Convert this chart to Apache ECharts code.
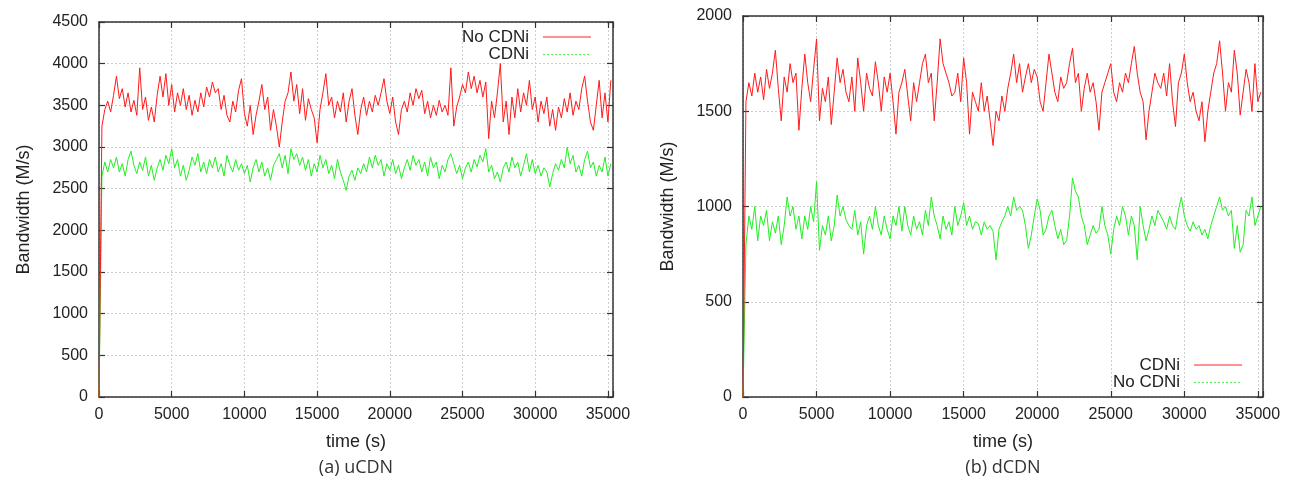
<!DOCTYPE html>
<html><head><meta charset="utf-8">
<script src="https://cdn.jsdelivr.net/npm/echarts@6/dist/echarts.min.js"></script>
<style>html,body{margin:0;padding:0;background:#fff}#c{width:1296px;height:484px}</style>
</head><body><div id="c"></div>
<script>
// ---- data (one sample every 200 s) ----
const sampleStep = 200;
const xMax = 35350;
const xInterval = 5000;
const uYMax = 4500, dYMax = 2000, yInterval = 500;
const panelCaptions = ['(a) uCDN', '(b) dCDN'];
const axisNameX = 'time (s)';
const axisNameY = 'Bandwidth (M/s)';
const uNames = ['No CDNi', 'CDNi'];
const dNames = ['CDNi', 'No CDNi'];

// (a) uCDN, "No CDNi" (red)
const uNoCdni = [0,3250,3450,3550,3420,3620,3850,3580,3700,3480,3650,3420,3560,3380,3950,3450,3600,3320,3480,3300,
3620,3850,3600,3880,3500,3750,3420,3650,3500,3700,3450,3620,3380,3560,3420,3650,3480,3720,3600,3780,
3650,3700,3450,3620,3380,3300,3550,3420,3680,3820,3400,3250,3500,3150,3380,3550,3750,3450,3600,3200,
3450,3250,3000,3300,3550,3650,3900,3550,3750,3400,3700,3320,3580,3450,3350,3050,3450,3650,3880,3500,
3600,3350,3550,3420,3650,3300,3550,3700,3380,3150,3450,3600,3380,3550,3420,3620,3500,3650,3820,3550,
3400,3600,3300,3150,3450,3550,3420,3650,3500,3700,3580,3680,3400,3550,3350,3500,3380,3560,3420,3500,
3380,3950,3250,3480,3600,3750,3650,3900,3700,3850,3650,3800,3600,3780,3100,3550,3350,3650,4000,3300,
3550,3150,3600,3350,3700,3420,3650,3500,3800,3450,3600,3300,3550,3400,3600,3250,3450,3200,3480,3350,
3580,3420,3650,3380,3550,3450,3700,3850,3550,3300,3200,3500,3800,3350,3650,3300,3800];
// (a) uCDN, "CDNi" (green)
const uCdni = [0,2650,2820,2700,2850,2750,2880,2700,2800,2650,2850,2950,2780,2680,2820,2720,2880,2650,2780,2600,
2750,2850,2720,2900,2800,2980,2750,2850,2650,2780,2600,2720,2880,2780,2920,2700,2820,2680,2850,2750,
2880,2700,2800,2650,2900,2780,2700,2850,2720,2800,2680,2780,2580,2750,2850,2700,2820,2650,2750,2600,
2780,2850,2920,2750,2900,2680,2980,2850,2920,2780,2880,2720,2850,2650,2800,2700,2900,2750,2850,2680,
2780,2620,2850,2700,2600,2480,2650,2720,2600,2750,2680,2800,2700,2880,2750,2900,2780,2850,2650,2800,
2720,2850,2680,2780,2620,2750,2850,2720,2900,2780,2850,2700,2820,2650,2880,2750,2820,2620,2780,2700,
2850,2920,2800,2680,2780,2620,2750,2820,2700,2850,2760,2900,2820,2980,2700,2780,2620,2700,2580,2750,
2820,2700,2880,2750,2820,2650,2780,2920,2700,2850,2680,2780,2650,2750,2700,2520,2680,2800,2720,2850,
2750,3000,2800,2900,2700,2780,2650,2850,2950,2750,2820,2650,2780,2700,2880,2650,2800];
// (b) dCDN, "CDNi" (red)
const dCdni = [0,1550,1650,1580,1700,1600,1680,1560,1720,1620,1700,1820,1620,1450,1680,1600,1750,1650,1700,1400,
1620,1800,1650,1550,1720,1880,1450,1620,1550,1680,1430,1600,1780,1650,1720,1600,1550,1680,1500,1780,
1650,1500,1700,1620,1580,1760,1650,1500,1680,1600,1700,1550,1380,1600,1650,1720,1580,1450,1650,1550,
1650,1750,1800,1650,1700,1450,1650,1880,1750,1700,1650,1580,1600,1700,1550,1780,1650,1380,1600,1550,
1500,1650,1500,1580,1450,1320,1500,1450,1580,1500,1620,1700,1800,1650,1750,1600,1680,1750,1650,1720,
1680,1550,1500,1650,1800,1700,1600,1550,1680,1620,1650,1750,1830,1650,1700,1500,1620,1700,1600,1650,
1550,1400,1600,1650,1700,1750,1600,1550,1650,1600,1700,1650,1750,1840,1700,1600,1550,1350,1500,1600,
1700,1650,1620,1700,1580,1750,1550,1420,1650,1700,1800,1650,1550,1600,1500,1450,1550,1340,1500,1600,
1700,1750,1870,1700,1500,1650,1600,1820,1700,1480,1600,1720,1650,1500,1750,1550,1600];
// (b) dCDN, "No CDNi" (green)
const dNoCdni = [0,800,950,880,1000,820,950,900,980,820,920,860,950,800,900,1050,950,1000,880,950,
830,950,880,1000,920,1130,770,900,850,950,820,900,1060,950,1000,930,900,880,980,850,
920,750,900,950,880,1000,900,850,950,880,830,950,900,1000,870,1000,900,850,950,880,
920,850,980,900,1050,950,900,830,950,880,920,850,1000,900,950,1020,900,950,880,920,
910,850,920,880,900,870,720,880,920,950,1000,950,1050,980,1000,980,900,780,850,950,
1040,980,850,880,950,980,900,830,880,800,820,950,1150,1080,1050,950,900,800,850,900,
860,880,1000,900,850,750,880,950,900,1000,950,850,950,900,720,1000,900,820,880,950,
900,980,950,920,880,950,900,880,980,1050,950,900,870,920,880,900,850,880,830,900,
950,1000,1050,980,1000,950,980,780,900,760,800,980,950,1050,900,950,1000];

// ---- chart ----
const FONT = '"Liberation Sans", Arial, sans-serif';
const RED = '#ff1a1a', GREEN = '#22ee22';
const pairs = arr => arr.map((v, i) => [i * sampleStep, v]);

const grids = [
  {left: 99, top: 22, width: 514, height: 375},
  {left: 743, top: 16, width: 520, height: 381}
];
const boxLine = {show: true, onZero: false, lineStyle: {color: '#333', width: 1.5}};
const tickIn = {show: true, inside: true, length: 6, lineStyle: {color: '#333', width: 1.2}};
const gridLine = {show: true, lineStyle: {color: '#cfcfcf', type: [2, 2], width: 1}};

function xAxes(g) {
  return [
    {gridIndex: g, type: 'value', position: 'bottom', min: 0, max: xMax, interval: xInterval,
     axisLine: boxLine, axisTick: tickIn, splitLine: gridLine,
     axisLabel: {fontSize: 16, color: '#222', fontFamily: FONT, margin: 10,
       formatter: v => (v % xInterval === 0 ? String(v) : '')},
     name: axisNameX, nameLocation: 'middle', nameGap: 36,
     nameTextStyle: {fontSize: 18, color: '#222', fontFamily: FONT}},
    {gridIndex: g, type: 'value', position: 'top', min: 0, max: xMax, interval: xInterval,
     axisLine: boxLine, axisTick: tickIn, splitLine: {show: false}, axisLabel: {show: false}}
  ];
}
function yAxes(g, ymax) {
  return [
    {gridIndex: g, type: 'value', position: 'left', min: 0, max: ymax, interval: yInterval,
     axisLine: boxLine, axisTick: tickIn, splitLine: gridLine,
     axisLabel: {fontSize: 16, color: '#222', fontFamily: FONT, margin: 11, formatter: v => String(v)},
     name: axisNameY, nameLocation: 'middle', nameGap: 66, nameRotate: 90,
     nameTextStyle: {fontSize: 18, color: '#222', fontFamily: FONT}},
    {gridIndex: g, type: 'value', position: 'right', min: 0, max: ymax, interval: yInterval,
     axisLine: boxLine, axisTick: tickIn, splitLine: {show: false}, axisLabel: {show: false}}
  ];
}
function line(name, data, color, xi, yi, z) {
  return {type: 'line', name, data: pairs(data), xAxisIndex: xi, yAxisIndex: yi,
    showSymbol: false, symbol: 'none', z: z, animation: false,
    lineStyle: {color, width: 1}, itemStyle: {color}};
}

function legendItems(x, yTop, names, colors, dashes) {
  const out = [];
  names.forEach((n, k) => {
    const y = yTop + k * 17.5;
    out.push({type: 'text', x: x, y: y, style: {text: n, fill: '#222', font: '17px ' + FONT,
      textAlign: 'right', textVerticalAlign: 'middle'}});
    out.push({type: 'line', shape: {x1: x + 14, y1: y, x2: x + 62, y2: y},
      style: {stroke: colors[k], lineWidth: 1.3, lineDash: dashes[k]}});
  });
  return out;
}

const option = {
  backgroundColor: '#fff',
  animation: false,
  grid: grids,
  xAxis: [...xAxes(0), ...xAxes(1)],
  yAxis: [...yAxes(0, uYMax), ...yAxes(1, dYMax)],
  series: [
    line(uNames[0], uNoCdni, RED, 0, 0, 3),
    line(uNames[1], uCdni, GREEN, 0, 0, 2),
    line(dNames[0], dCdni, RED, 2, 2, 3),
    line(dNames[1], dNoCdni, GREEN, 2, 2, 2)
  ],
  graphic: [
    ...legendItems(529, 37, uNames, ['#ff6b6b', '#66ee66'], [null, [2, 2]]),
    ...legendItems(1180, 365, dNames, ['#ff6b6b', '#66ee66'], [null, [2, 2]]),
    {type: 'text', x: 356, y: 468, style: {text: panelCaptions[0], fill: '#333',
      font: '18px "Open Sans", sans-serif', textAlign: 'center', textVerticalAlign: 'middle'}},
    {type: 'text', x: 1003, y: 468, style: {text: panelCaptions[1], fill: '#333',
      font: '18px "Open Sans", sans-serif', textAlign: 'center', textVerticalAlign: 'middle'}}
  ]
};
const chart = echarts.init(document.getElementById('c'), null, {renderer: 'canvas'});
chart.setOption(option);
</script></body></html>
